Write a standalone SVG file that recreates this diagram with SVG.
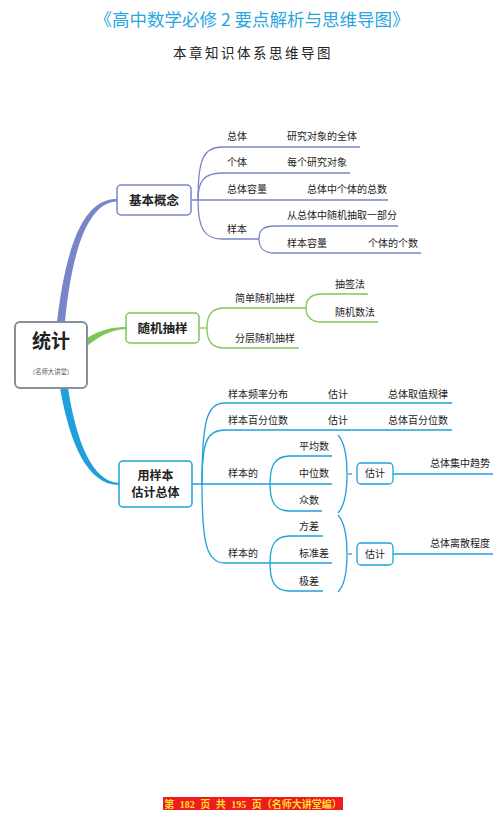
<svg xmlns="http://www.w3.org/2000/svg" width="500" height="814" viewBox="0 0 500 814">
<style>
text{font-family:"Noto Sans CJK SC","Liberation Sans",sans-serif;fill:#222}
.t{font-size:10px}
.n{font-size:12.5px;font-weight:bold;text-anchor:middle}
.p{fill:none;stroke-width:1.3}
.pu{stroke:#7985c8}
.gr{stroke:#7cc65a}
.bl{stroke:#1fa0dc}
</style>
<rect width="500" height="814" fill="#fff"/>
<text x="252" y="26" style="font-size:17.5px;fill:#2aa6df;text-anchor:middle">《高中数学必修 2 要点解析与思维导图》</text>
<text x="253" y="58" style="font-size:13.5px;letter-spacing:2.5px;text-anchor:middle">本章知识体系思维导图</text>

<g id="connectors">
  <path d="M57 322 C66 245 84 198 117 199 L117 201.5 C89 202 72 248 65 322 Z" fill="#7985c8"/>
  <path d="M87 338 C100 330 110 327.5 126 327 L126 329 C111 330 101 335 87 346 Z" fill="#7cc65a"/>
  <path d="M60 388 C70 445 88 485 119 485 L119 483 C92 482 76 440 68 388 Z" fill="#1fa0dc"/>
  <!-- 基本概念 -->
  <path class="p pu" d="M191 200 H388"/>
  <path class="p pu" d="M198 200 C198 160 203 147 222 147 H360"/>
  <path class="p pu" d="M198 200 C198 181 204 173 222 173 H350"/>
  <path class="p pu" d="M198 200 C198 228 204 239 222 239 H259"/>
  <path class="p pu" d="M259 239 C259 230 263 226 275 226 H398"/>
  <path class="p pu" d="M259 239 C259 248 263 253 275 253 H421"/>
  <!-- 随机抽样 -->
  <path class="p gr" d="M199 328 H207"/>
  <path class="p gr" d="M207 328 C207 314 212 308 225 308 H306"/>
  <path class="p gr" d="M207 328 C207 342 212 348 225 348 H299"/>
  <path class="p gr" d="M306 308 C306 299 311 294 322 294 H368"/>
  <path class="p gr" d="M306 308 C306 317 311 322 322 322 H378"/>
  <!-- 用样本估计总体 -->
  <path class="p bl" d="M192 484 H270"/>
  <path class="p bl" d="M202 484 C202 420 207 403 225 403 H452"/>
  <path class="p bl" d="M202 484 C202 441 207 430 225 430 H452"/>
  <path class="p bl" d="M202 484 C202 545 207 563 225 563 H270"/>
  <path class="p bl" d="M270 484 C270 465 275 456 290 456 H332"/>
  <path class="p bl" d="M270 484 H332"/>
  <path class="p bl" d="M270 484 C270 502 275 511 290 511 H322"/>
  <path class="p bl" d="M270 563 C270 545 275 536 290 536 H323"/>
  <path class="p bl" d="M270 563 H332"/>
  <path class="p bl" d="M270 563 C270 582 275 591 290 591 H323"/>
  <path class="p bl" d="M338 435 Q347 445 347 474 Q347 503 338 513"/>
  <path class="p bl" d="M348 474 H352"/>
  <path class="p bl" d="M338 515 Q347 525 347 554 Q347 583 338 592"/>
  <path class="p bl" d="M348 554 H352"/>
  <path class="p bl" d="M393 474 H493"/>
  <path class="p bl" d="M393 554 H493"/>
</g>

<g id="root">
  <rect x="15" y="322" width="72" height="66" rx="5" fill="#fff" stroke="#8a8e9a" stroke-width="2"/>
  <text x="51" y="348" style="font-size:19px;font-weight:bold;text-anchor:middle">统计</text>
  <text x="51" y="373.5" style="font-size:6.3px;fill:#555;text-anchor:middle">（名师大讲堂）</text>
</g>

<g id="jibengainian">
  <rect x="117" y="185" width="74" height="30" rx="4" fill="#fff" stroke="#7985c8" stroke-width="1.5"/>
  <text class="n" x="154" y="204.5">基本概念</text>
</g>
<g id="jbgn-children">
  <text class="t" x="227" y="140">总体</text>
  <text class="t" x="287" y="140">研究对象的全体</text>
  <text class="t" x="227" y="166">个体</text>
  <text class="t" x="287" y="166">每个研究对象</text>
  <text class="t" x="227" y="192.5">总体容量</text>
  <text class="t" x="307" y="192.5">总体中个体的总数</text>
  <text class="t" x="227" y="232.5">样本</text>
  <text class="t" x="287" y="218.5">从总体中随机抽取一部分</text>
  <text class="t" x="287" y="246.5">样本容量</text>
  <text class="t" x="368" y="246.5">个体的个数</text>
</g>

<g id="suijichouyang">
  <rect x="126" y="313" width="73" height="30" rx="4" fill="#fff" stroke="#7cc65a" stroke-width="1.5"/>
  <text class="n" x="162.5" y="332.5">随机抽样</text>
</g>
<g id="sjcy-children">
  <text class="t" x="235" y="301.5">简单随机抽样</text>
  <text class="t" x="335" y="287.5">抽签法</text>
  <text class="t" x="335" y="315.5">随机数法</text>
  <text class="t" x="235" y="341.5">分层随机抽样</text>
</g>

<g id="yongyangben">
  <rect x="119" y="461" width="73" height="46" rx="4" fill="#fff" stroke="#1fa0dc" stroke-width="1.5"/>
  <text class="n" x="155.5" y="479.5" style="font-size:12px">用样本</text>
  <text class="n" x="155.5" y="497" style="font-size:12px">估计总体</text>
</g>
<g id="yyb-children">
  <text class="t" x="228" y="397.5">样本频率分布</text>
  <text class="t" x="328" y="397.5">估计</text>
  <text class="t" x="388" y="397.5">总体取值规律</text>
  <text class="t" x="228" y="423.5">样本百分位数</text>
  <text class="t" x="328" y="423.5">估计</text>
  <text class="t" x="388" y="423.5">总体百分位数</text>
  <text class="t" x="228" y="476.5">样本的</text>
  <text class="t" x="299" y="449.5">平均数</text>
  <text class="t" x="299" y="476.5">中位数</text>
  <text class="t" x="299" y="503.5">众数</text>
  <text class="t" x="228" y="556.5">样本的</text>
  <text class="t" x="299" y="529.5">方差</text>
  <text class="t" x="299" y="556.5">标准差</text>
  <text class="t" x="299" y="584.5">极差</text>
  <text class="t" x="430" y="466.5">总体集中趋势</text>
  <text class="t" x="430" y="546.5">总体离散程度</text>
</g>
<g id="guji1">
  <rect x="357" y="463" width="36" height="21" rx="4" fill="#fff" stroke="#1fa0dc" stroke-width="1.3"/>
  <text class="t" x="375" y="477" text-anchor="middle">估计</text>
</g>
<g id="guji2">
  <rect x="357" y="543" width="36" height="22" rx="4" fill="#fff" stroke="#1fa0dc" stroke-width="1.3"/>
  <text class="t" x="375" y="557.5" text-anchor="middle">估计</text>
</g>

<g id="footer">
  <rect x="163" y="797" width="180" height="13" fill="#ee1c1c"/>
  <text x="253" y="807.5" style="font-family:'Liberation Serif','Noto Sans CJK SC',serif;font-size:10px;font-weight:bold;fill:#ffdd33;text-anchor:middle;word-spacing:3px">第 182 页 共 195 页（名师大讲堂编）</text>
</g>
</svg>
